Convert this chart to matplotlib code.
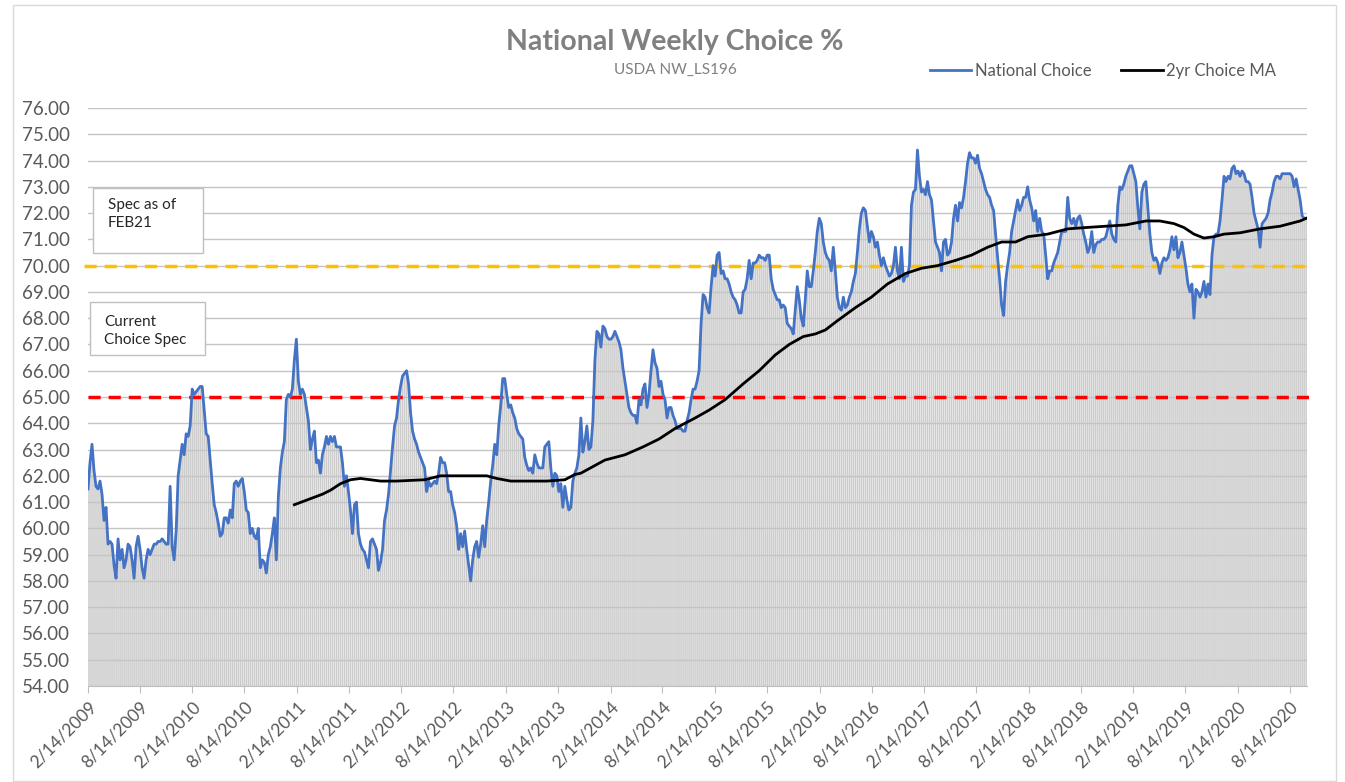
import matplotlib
matplotlib.use("Agg")
import matplotlib.pyplot as plt
from matplotlib.patches import Rectangle
from matplotlib.lines import Line2D
import pandas as pd

plt.rcParams['font.family'] = ['Lato', 'DejaVu Sans']

# weekly national choice %, starting 2/14/2009
national_choice = [
    61.5, 62.5, 63.2, 62.2, 61.6, 61.5, 61.8, 61.3, 60.3, 60.8,
    59.4, 59.5, 59.4, 58.6, 58.1, 59.6, 58.8, 59.2, 58.5, 58.8,
    59.4, 59.3, 58.8, 58.1, 59.3, 59.7, 59.2, 58.5, 58.1, 58.8,
    59.2, 59.0, 59.2, 59.4, 59.4, 59.5, 59.5, 59.6, 59.5, 59.4,
    59.4, 61.6, 59.3, 58.8, 59.9, 62.0, 62.6, 63.2, 62.8, 63.6,
    63.5, 63.9, 65.3, 65.1, 65.2, 65.3, 65.4, 65.4, 64.5, 63.6,
    63.5, 62.6, 61.7, 60.9, 60.6, 60.2, 59.7, 59.8, 60.4, 60.4,
    60.2, 60.7, 60.4, 61.7, 61.8, 61.6, 61.8, 61.9, 61.4, 60.7,
    60.6, 59.8, 60.0, 59.7, 59.6, 60.0, 58.5, 58.8, 58.7, 58.3,
    59.0, 59.3, 59.8, 60.4, 58.8, 61.2, 62.3, 62.9, 63.3, 64.9,
    65.1, 65.0, 65.3, 66.4, 67.2, 65.6, 65.1, 65.3, 65.1, 64.6,
    64.1, 63.0, 63.4, 63.7, 62.5, 62.6, 62.1, 62.8, 63.1, 63.5,
    63.2, 63.5, 63.3, 63.5, 63.1, 63.1, 63.1, 62.5, 61.6, 62.0,
    61.4, 60.7, 59.8, 60.9, 61.0, 59.8, 59.4, 59.2, 59.1, 58.8,
    58.5, 59.5, 59.6, 59.4, 59.2, 58.4, 58.7, 59.2, 60.3, 60.7,
    61.3, 62.2, 63.1, 63.9, 64.2, 64.9, 65.4, 65.8, 65.9, 66.0,
    65.5, 64.4, 63.7, 63.4, 63.2, 62.9, 62.7, 62.5, 62.3, 61.4,
    61.8, 61.6, 61.7, 61.8, 61.7, 62.1, 62.7, 62.5, 62.5, 62.1,
    61.4, 61.4, 60.9, 60.6, 60.1, 59.2, 59.8, 59.3, 59.9, 59.2,
    58.6, 58.0, 58.8, 59.3, 59.5, 58.9, 59.4, 60.1, 59.3, 60.3,
    61.0, 61.8, 62.4, 63.2, 62.8, 63.9, 64.7, 65.7, 65.7, 65.1,
    64.6, 64.7, 64.4, 64.2, 63.8, 63.6, 63.5, 63.4, 62.7, 62.4,
    62.2, 62.3, 62.1, 62.8, 62.5, 62.3, 62.3, 62.3, 63.1, 63.2,
    63.3, 62.3, 61.6, 62.1, 62.0, 61.4, 61.7, 60.8, 61.6, 61.1,
    60.7, 60.8, 61.8, 62.1, 62.3, 62.8, 64.2, 62.9, 63.3, 63.9,
    63.0, 63.1, 64.1, 66.4, 67.5, 67.4, 66.9, 67.7, 67.6, 67.3,
    67.2, 67.2, 67.3, 67.5, 67.3, 67.1, 66.8, 66.1, 65.6, 65.1,
    64.6, 64.4, 64.3, 64.3, 64.0, 64.9, 64.7, 65.3, 65.5, 64.6,
    65.1, 66.0, 66.8, 66.3, 66.1, 65.4, 65.6, 65.1, 64.9, 64.2,
    64.6, 64.6, 64.3, 64.1, 63.8, 63.8, 63.8, 63.7, 63.7, 64.1,
    64.4, 64.9, 65.3, 65.3, 65.6, 66.0, 67.8, 68.9, 68.8, 68.4,
    68.2, 69.2, 70.0, 69.6, 70.4, 70.5, 69.7, 69.8, 69.5, 69.5,
    69.3, 69.0, 68.8, 68.7, 68.5, 68.2, 68.2, 69.0, 69.1, 69.5,
    70.2, 69.5, 70.1, 70.1, 70.2, 70.4, 70.3, 70.3, 70.2, 70.4,
    70.4, 69.5, 69.1, 68.9, 68.7, 68.7, 68.4, 68.5, 68.4, 67.8,
    67.7, 67.6, 67.4, 68.3, 69.2, 68.7, 68.0, 67.7, 68.7, 69.8,
    69.2, 69.2, 69.8, 70.5, 71.3, 71.8, 71.6, 70.9, 70.5, 70.3,
    70.2, 69.8, 70.7, 69.8, 68.8, 68.4, 68.3, 68.8, 68.4, 68.5,
    68.8, 69.0, 69.4, 69.7, 70.5, 71.4, 72.0, 72.2, 72.1, 71.5,
    70.9, 71.3, 71.1, 70.7, 70.9, 70.4, 70.0, 70.3, 70.0, 69.8,
    69.6, 69.7, 70.0, 70.7, 69.8, 69.5, 70.7, 69.4, 69.6, 69.6,
    70.0, 72.3, 72.8, 72.9, 74.4, 73.4, 72.8, 72.9, 72.7, 73.2,
    72.7, 72.5, 71.7, 70.9, 70.7, 70.5, 69.8, 70.9, 71.0, 70.4,
    70.5, 70.9, 71.8, 72.3, 71.7, 72.4, 72.2, 72.6, 73.2, 73.9,
    74.3, 74.1, 74.1, 73.9, 74.2, 73.7, 73.5, 73.2, 72.9, 72.7,
    72.6, 72.3, 72.1, 71.2, 70.3, 69.5, 68.5, 68.1, 69.4, 70.0,
    70.5, 71.3, 71.7, 72.1, 72.5, 72.1, 72.3, 72.6, 72.6, 73.0,
    72.5, 72.2, 71.7, 72.1, 71.3, 71.8, 71.3, 71.2, 70.4, 69.5,
    69.8, 69.8, 70.1, 70.3, 70.5, 70.9, 71.3, 71.3, 71.3, 72.6,
    71.8, 71.6, 71.8, 71.5, 71.8, 71.9, 71.6, 71.2, 70.9, 70.5,
    70.7, 71.3, 70.5, 70.8, 70.9, 70.9, 71.0, 71.0, 71.1, 71.4,
    71.7, 71.2, 71.0, 70.9, 72.3, 73.0, 72.9, 73.1, 73.4, 73.6,
    73.8, 73.8, 73.5, 73.2, 72.2, 71.4, 72.8, 73.1, 73.2, 72.2,
    71.2, 70.5, 70.2, 70.3, 70.1, 69.7, 70.1, 70.3, 70.2, 70.3,
    70.6, 71.1, 70.6, 71.1, 70.3, 70.5, 70.9, 70.4, 69.9, 69.3,
    69.0, 69.3, 68.0, 69.1, 69.0, 68.8, 69.0, 69.4, 68.8, 69.3,
    68.9, 70.4, 71.1, 71.2, 71.2, 71.7, 72.5, 73.4, 73.2, 73.4,
    73.3, 73.7, 73.8, 73.5, 73.6, 73.4, 73.6, 73.5, 73.2, 73.2,
    73.1, 72.6, 72.0, 71.7, 71.4, 70.7, 71.6, 71.7, 71.8, 72.0,
    72.5, 72.8, 73.2, 73.4, 73.4, 73.3, 73.5, 73.5, 73.5, 73.5,
    73.5, 73.4, 73.0, 73.3, 72.9, 72.5, 71.9, 71.8, 71.8,
]

# 2yr moving average, read at selected week numbers
ma_weeks = [103, 110, 117, 121, 126, 131, 136, 146, 154, 168, 176, 188, 199, 204,
            211, 221, 229, 238, 243, 246, 258, 268, 277, 285, 293, 298, 303, 310,
            318, 327, 335, 343, 350, 357, 363, 368, 374, 383, 391, 399, 408, 416,
            424, 433, 441, 449, 456, 463, 469, 479, 489, 498, 508, 518, 528, 535,
            542, 547, 552, 557, 562, 567, 575, 585, 595, 605, 608]
ma_values = [60.9, 61.1, 61.3, 61.45, 61.7, 61.85, 61.9, 61.8, 61.8, 61.85, 62.0, 62.0,
             62.0, 61.9, 61.8, 61.8, 61.8, 61.85, 62.05, 62.1, 62.6, 62.8, 63.1, 63.4,
             63.8, 64.0, 64.2, 64.5, 64.9, 65.5, 66.0, 66.6, 67.0, 67.3, 67.4, 67.55,
             67.9, 68.4, 68.8, 69.3, 69.7, 69.9, 70.0, 70.2, 70.4, 70.7, 70.9, 70.9,
             71.1, 71.2, 71.4, 71.45, 71.5, 71.55, 71.7, 71.7, 71.6, 71.45, 71.2,
             71.05, 71.1, 71.2, 71.25, 71.4, 71.5, 71.7, 71.8]

spec_feb21 = 70.0
current_spec = 65.0

dates = pd.date_range("2009-02-14", periods=len(national_choice), freq="7D")
ma_dates = dates[ma_weeks]

tick_dates = []
for yr in range(2009, 2021):
    tick_dates.append(pd.Timestamp(yr, 2, 14))
    tick_dates.append(pd.Timestamp(yr, 8, 14))
tick_labels = [f"{d.month}/{d.day}/{d.year}" for d in tick_dates]

W, H = 1345, 782
fig = plt.figure(figsize=(W / 100, H / 100), dpi=100)

def fx(px):
    return px / W

def fy(py):
    return 1 - py / H

# outer chart border
fig.add_artist(Rectangle((fx(13), fy(781)), fx(1336) - fx(13), fy(5) - fy(781),
                         transform=fig.transFigure, fill=False, edgecolor="#d9d9d9", lw=1))

ax = fig.add_axes([fx(88), fy(686), fx(1307) - fx(88), fy(108) - fy(686)])

bars = ax.bar(dates, national_choice, width=5.5, color="#cccccc", zorder=1)
for b in bars:
    b.set_snap(False)
ax.plot(dates, national_choice, color="#4472c4", lw=2, zorder=4)
ax.plot(ma_dates, ma_values, color="black", lw=2, zorder=5)
ax.axhline(spec_feb21, xmin=-0.003, xmax=1.003, color="#ffc000", lw=2.5,
           dashes=(3.5, 2.3), zorder=3, clip_on=False)
ax.axhline(current_spec, xmin=0, xmax=1.003, color="#ff0000", lw=2.5,
           dashes=(3.5, 2.3), zorder=3, clip_on=False)

ax.set_ylim(54, 76)
ax.set_yticks(range(54, 77))
ax.set_yticklabels([f"{v:.2f}" for v in range(54, 77)])
ax.set_xlim(dates[0], dates[-1] + pd.Timedelta(days=3))
ax.set_xticks(tick_dates)
ax.set_xticklabels(tick_labels, rotation=45, ha="right", rotation_mode="anchor")

ax.set_axisbelow(False)
ax.yaxis.grid(True, color="#c4c4c4", lw=1)
for s in ["top", "right", "left"]:
    ax.spines[s].set_visible(False)
ax.spines["bottom"].set_color("#bfbfbf")
ax.tick_params(axis="y", length=0, pad=13, labelsize=13.5, labelcolor="#595959")
ax.tick_params(axis="x", length=5, color="#bfbfbf", pad=4, labelsize=12.5, labelcolor="#595959")

# title and subtitle
fig.text(fx(675), fy(42), "National Weekly Choice %", ha="center", va="center",
         fontsize=20.5, fontweight="bold", color="#808080")
fig.text(fx(675), fy(70), "USDA NW_LS196", ha="center", va="center",
         fontsize=11, color="#808080")

# legend
handles = [Line2D([], [], color="#4472c4", lw=2), Line2D([], [], color="black", lw=2)]
fig.legend(handles, ["National Choice", "2yr Choice MA"], ncol=2, loc="center",
           bbox_to_anchor=(fx(1103), fy(71)), frameon=False, fontsize=12,
           handlelength=2.5, handletextpad=0.2, columnspacing=1.8, labelcolor="#595959")

# annotation boxes
fig.add_artist(Rectangle((fx(93), fy(253)), fx(203) - fx(93), fy(188) - fy(253),
                         transform=fig.transFigure, facecolor="white", edgecolor="#bfbfbf",
                         lw=1, zorder=6))
fig.text(fx(108), fy(214), "Spec as of\nFEB21", ha="left", va="center", fontsize=11,
         color="#262626", linespacing=1.45, zorder=7)
fig.add_artist(Rectangle((fx(90), fy(355)), fx(205) - fx(90), fy(302) - fy(355),
                         transform=fig.transFigure, facecolor="white", edgecolor="#bfbfbf",
                         lw=1, zorder=6))
fig.text(fx(104), fy(331), "Current\nChoice Spec", ha="left", va="center", fontsize=11,
         color="#262626", linespacing=1.45, zorder=7)

fig.savefig("out.png", dpi=100)
